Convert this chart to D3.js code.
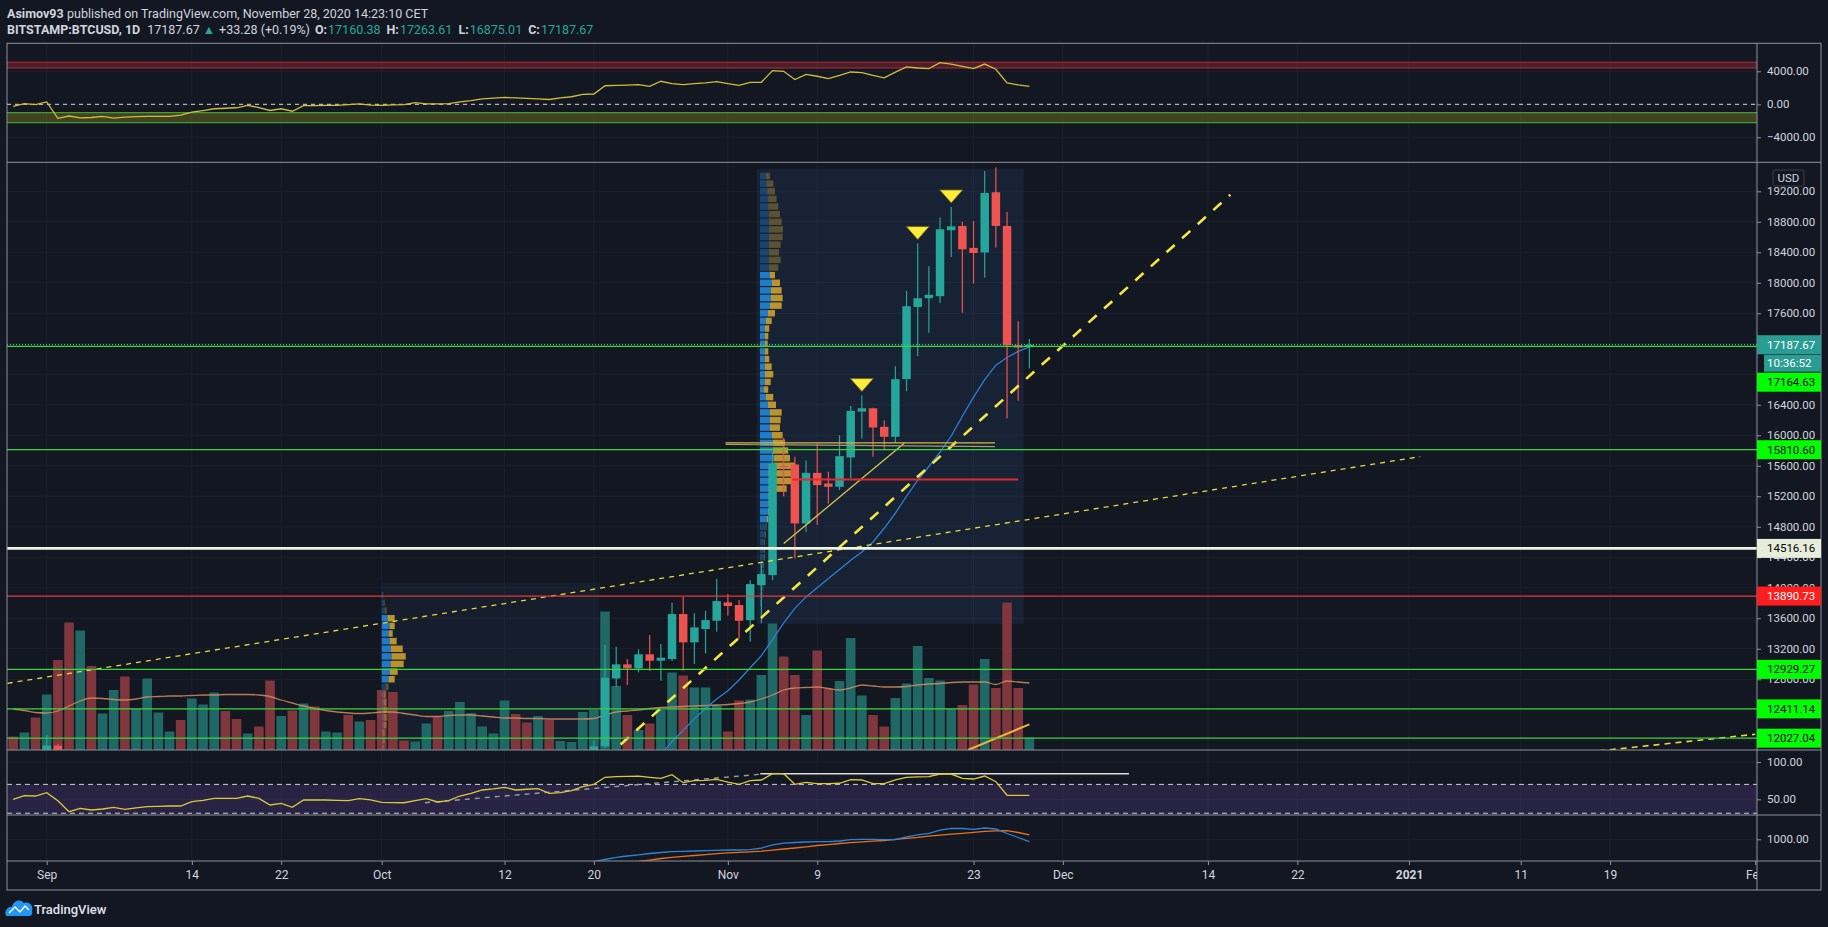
<!DOCTYPE html>
<html>
<head>
<meta charset="utf-8">
<title>BITSTAMP:BTCUSD 1D</title>
<script src="https://cdn.jsdelivr.net/npm/d3@7/dist/d3.min.js"></script>
<style>
  html, body { margin: 0; background: #131722; }
  svg { display: block; }
  text { font-family: Roboto, "Liberation Sans", sans-serif; }
</style>
</head>
<body>
<svg id="chart" width="1828" height="927"></svg>
<script>
// ---- values ----
// daily candles that reach into the visible price range: date, open, high, low, close
const candles = [
  ["2020-09-01", 11655, 12070, 11530, 11930],
  ["2020-09-02", 11930, 11950, 11170, 11395],
  ["2020-10-20", 11750, 12000, 11680, 11920],
  ["2020-10-21", 11920, 13248, 11900, 12820],
  ["2020-10-22", 12810, 13226, 12694, 12995],
  ["2020-10-23", 12995, 13061, 12724, 12945],
  ["2020-10-24", 12943, 13192, 12891, 13127],
  ["2020-10-25", 13127, 13380, 12908, 13043],
  ["2020-10-26", 13043, 13261, 12781, 13083],
  ["2020-10-27", 13065, 13803, 13040, 13655],
  ["2020-10-28", 13655, 13882, 12912, 13284],
  ["2020-10-29", 13284, 13664, 13000, 13480],
  ["2020-10-30", 13458, 13698, 13140, 13576],
  ["2020-10-31", 13567, 14118, 13423, 13825],
  ["2020-11-01", 13808, 13917, 13633, 13760],
  ["2020-11-02", 13773, 13838, 13336, 13567],
  ["2020-11-03", 13576, 14100, 13292, 14048],
  ["2020-11-04", 14035, 14319, 13533, 14179],
  ["2020-11-05", 14166, 15770, 14100, 15630],
  ["2020-11-06", 15600, 15965, 15200, 15580],
  ["2020-11-07", 15617, 15717, 14385, 14844],
  ["2020-11-08", 14844, 15673, 14734, 15507],
  ["2020-11-09", 15507, 15893, 14822, 15346],
  ["2020-11-10", 15368, 15520, 15106, 15324],
  ["2020-11-11", 15324, 16001, 15280, 15726],
  ["2020-11-12", 15709, 16385, 15440, 16321],
  ["2020-11-13", 16310, 16520, 15958, 16354],
  ["2020-11-14", 16354, 16360, 15717, 16102],
  ["2020-11-15", 16111, 16198, 15805, 15980],
  ["2020-11-16", 15980, 16906, 15900, 16736],
  ["2020-11-17", 16736, 17893, 16578, 17693],
  ["2020-11-18", 17683, 18514, 17037, 17797],
  ["2020-11-19", 17797, 18217, 17346, 17843],
  ["2020-11-20", 17824, 18855, 17736, 18702],
  ["2020-11-21", 18689, 18995, 18339, 18741],
  ["2020-11-22", 18745, 18800, 17607, 18439],
  ["2020-11-23", 18457, 18809, 17990, 18391],
  ["2020-11-24", 18397, 19466, 18069, 19178],
  ["2020-11-25", 19187, 19511, 18462, 18745],
  ["2020-11-26", 18745, 18929, 16220, 17181],
  ["2020-11-27", 17181, 17496, 16451, 17150],
  ["2020-11-28", 17160.38, 17263.61, 16875.01, 17187.67]
];

// daily volume (K) from Aug 29, with up/down colour and its moving average
const volumeStart = "2020-08-29";
const volumes = [
  2.7, 3.5, 6.5, 11.1, 18, 25.5, 23.9, 16.8, 7.3, 12,
  14.7, 8.3, 14.3, 7.5, 3.7, 6, 10.3, 9.1, 11.5, 7.8,
  6.2, 3.3, 4.7, 13.9, 6.8, 7.9, 9.3, 8.7, 3.7, 3.5,
  7, 5.7, 6, 12, 11.6, 1.9, 1.7, 5.3, 6.7, 7.8,
  9.6, 7.4, 4.7, 3.3, 9.9, 7.2, 5.5, 6.8, 6, 1.8,
  1.6, 7.6, 8, 27.7, 12.8, 7, 4, 5.3, 8, 15.5,
  14.9, 12.5, 12.5, 9, 3.7, 9.9, 10.1, 15, 25.3, 18.7,
  15, 7, 19.9, 12.3, 13.8, 22.4, 10.9, 7, 4.7, 10.4,
  13.3, 20.8, 14.4, 13.9, 8.3, 9, 13.1, 18.2, 12.4, 29.5,
  12.4, 2.5
];
const volumeSide = ("dududduduu" + "duuuuduuud" + "duddududuu" + "dudddduudu" + "uuuuuddudu" +
  "uuuuududuu" + "duuudduuud" + "dudduuuddu" + "uuuuuddudd" + "du").split("");
const volumeAvg = [
  8.2, 7.9, 7.5, 7.4, 7.8, 8.8, 9.8, 10.4, 10.3, 10.1,
  10, 10.2, 10.6, 10.7, 10.8, 10.8, 10.9, 11, 11, 11.1,
  11.1, 11.1, 11, 10.7, 10, 9.4, 8.8, 8.3, 7.9, 7.6,
  7.4, 7.3, 7.4, 7.6, 7.6, 7.3, 7, 6.7, 6.7, 6.9,
  7, 7, 6.8, 6.6, 6.4, 6.4, 6.3, 6.3, 6.2, 6.2,
  6.2, 6.2, 6.3, 7, 7.6, 7.8, 8, 8.3, 8.5, 8.6,
  8.7, 8.8, 8.9, 9, 9.1, 9.3, 9.6, 10.2, 11, 12,
  12.4, 12.5, 12.6, 12.3, 12, 12.4, 13, 12.8, 12.6, 12.6,
  12.7, 13, 13.2, 13.3, 13.5, 13.6, 13.6, 13.6, 13.1, 13.8,
  13.6, 13.4
];

// blue moving average on price, from Oct 26
const maStart = "2020-10-26";
const maValues = [
  11820, 11980, 12130, 12280, 12420, 12540, 12650, 12790, 12950, 13110,
  13320, 13540, 13730, 13880, 14000, 14120, 14240, 14360, 14470, 14600,
  14780, 14980, 15200, 15410, 15590, 15780, 15990, 16250, 16500, 16730,
  16920, 17020, 17100, 17160
];

// top oscillator, from Aug 29
const oscStart = "2020-08-29";
const oscValues = [
  -250, 80, -40, 290, -1700, -1420, -1650, -1600, -1460, -1670,
  -1560, -1500, -1460, -1460, -1460, -1300, -960, -760, -540, -480,
  -420, -125, -400, -750, -540, -840, -170, -150, -140, -125,
  -50, 40, -100, -125, -80, -40, 210, 40, 60, 80,
  300, 450, 665, 750, 830, 780, 710, 650, 580, 780,
  915, 1200, 1250, 2250, 2290, 2330, 2375, 2165, 2790, 2500,
  2375, 2500, 2600, 2750, 2500, 2290, 2665, 2665, 4085, 4000,
  3000, 3625, 3400, 3125, 3500, 3915, 3835, 3500, 3210, 3900,
  4540, 4400, 4335, 5040, 4875, 4600, 4335, 4875, 4250, 2585,
  2350, 2165
];
const oscBandHigh = [4400, 5100];
const oscBandLow = [-2230, -1020];

// RSI, from Aug 29
const rsiStart = "2020-08-29";
const rsiValues = [
  50, 54.8, 54.4, 58.9, 48, 33.4, 37.9, 35.7, 37, 39.3,
  36.6, 38.5, 40.1, 40.5, 41, 41, 46.8, 48.5, 51.3, 51.3,
  51.3, 54.4, 51.3, 42.4, 44.6, 39.3, 49.1, 49.1, 49.1, 48.5,
  48.2, 50.9, 49.1, 45.9, 45.6, 45.4, 48.2, 50.9, 46.4, 48.2,
  54.4, 58, 62.5, 64, 66.1, 62.5, 63.5, 64.2, 58, 58.9,
  61.6, 66.9, 70.1, 79.5, 80.3, 80.8, 81.2, 79.5, 78.1, 83,
  72.3, 75, 75.5, 76.8, 73, 70.1, 75, 75.9, 84.3, 84.3,
  70.1, 72.8, 71, 71, 71.5, 76.3, 75.9, 71, 71, 76,
  79.5, 80, 80.3, 83.9, 83.9, 78.1, 77.2, 81.2, 73.6, 55.4,
  55.4, 55.4
];
const rsiBand = [30, 70];

// lowest pane: two lines
const lowBlueStart = "2020-10-20";
const lowBlue = [
  440, 495, 550, 582, 612, 645, 670, 692, 700, 708,
  715, 725, 732, 732, 742, 782, 858, 902, 920, 932,
  940, 940, 958, 992, 1000, 1000, 992, 995, 1058, 1108,
  1150, 1232, 1275, 1270, 1250, 1282, 1258, 1145, 1045, 940
];
const lowOrangeStart = "2020-10-24";
const lowOrange = [
  445, 482, 520, 550, 575, 595, 615, 640, 662, 675,
  688, 702, 728, 758, 782, 812, 845, 868, 895, 918,
  938, 952, 970, 998, 1025, 1048, 1078, 1102, 1128, 1150,
  1175, 1200, 1212, 1215, 1170, 1108
];

// fixed range volume profiles: rows of 100 USD, from the top price down (buy, sell)
const novProfileTop = 19400;
const novProfileBuy = [6, 6.7, 7.3, 8.3, 8.3, 9, 9, 9, 9, 9, 9, 9, 9, 10, 12, 11, 11, 10, 8, 6,
  5, 5, 5, 5, 5, 5, 5, 5, 4, 6, 8, 10, 10, 10, 12, 13, 13, 14, 14, 14,
  14, 13, 10, 9, 8, 7, 6, 5, 4, 4, 4, 3, 3, 3, 3, 2, 2];
const novProfileSell = [4, 6.7, 7.7, 8.3, 10, 11, 12.7, 14, 13.7, 11.7, 10, 11.7, 9.3, 5, 8, 10.7, 11.7, 11.7, 7, 5.7,
  4.3, 3.3, 2.7, 3.3, 4.3, 6.7, 8.3, 5.7, 4.3, 7.3, 8, 11.7, 10.7, 10, 10.7, 12, 15.3, 16, 21, 22.7,
  19.3, 13.7, 5, 3, 2, 1.3, 0.7, 1, 1, 1, 1, 1, 1, 0.5, 0.5, 0.5, 0];
const novValueArea = [14900, 18100];
const octProfileTop = 13900;
const octProfileBuy = [1, 2, 3, 6, 8, 7, 8, 9, 10, 9, 8, 7, 4, 2, 2, 2, 2, 2, 1, 1, 1];
const octProfileSell = [0.5, 1, 2, 7, 5, 4, 7, 12, 14, 13, 8, 6, 3, 2, 3, 4, 4, 3, 2, 2, 1];
const octValueArea = [12800, 13600];

// drawn levels and lines
const lastPrice = 17187.67;
const greenLevels = [17164.63, 15810.60, 12929.27, 12411.14, 12027.04];
const whiteLevel = 14516.16;
const redLevel = 13890.73;
const peakMarkers = ["2020-11-13", "2020-11-18", "2020-11-21"];
const thickTrend = [["2020-10-21", 11760], ["2020-12-16", 19155]];
const longTrend = [["2020-08-28T12:00Z", 12747], ["2021-01-02", 15720]];
const lowTrend = [["2021-01-18", 11860], ["2021-02-01", 12078]];
const riseLine = [["2020-11-06", 14580], ["2020-11-16T19:00Z", 15896]];
const flatLines = [[["2020-10-31T19:00Z", 15900], ["2020-11-24T22:00Z", 15900]],
                   [["2020-10-31T19:00Z", 15880], ["2020-11-24T22:00Z", 15850]]];
const redSegment = [["2020-11-06T19:00Z", 15420], ["2020-11-27", 15420]];
const volTrend = [["2020-11-22T12:00Z", 11872], ["2020-11-28", 12209]];
const novRange = [["2020-11-03T14:00Z", 13524], ["2020-11-27T12:00Z", 19495]];
const octRange = [["2020-10-01", 14060], ["2020-10-20T12:00Z", 11800]];
const rsiTrend = [["2020-10-04T21:00Z", 45.4], ["2020-11-03T21:00Z", 83.5]];
const rsiFlat = [["2020-11-03T21:36Z", 84.3], ["2020-12-06T22:00Z", 84.3]];

// axis ticks
const priceTicks = [12000, 12400, 12800, 13200, 13600, 14000, 14400, 14800, 15200, 15600,
  16000, 16400, 16800, 17200, 17600, 18000, 18400, 18800, 19200];
const oscTicks = [-4000, 0, 4000];
const rsiTicks = [50, 100];
const lowTicks = [1000];
const timeTicks = ["2020-09-01", "2020-09-14", "2020-09-22", "2020-10-01", "2020-10-12", "2020-10-20",
  "2020-11-01", "2020-11-09", "2020-11-23", "2020-12-01", "2020-12-14", "2020-12-22",
  "2021-01-01", "2021-01-11", "2021-01-19", "2021-02-01"];
const timeLabels = ["Sep", "14", "22", "Oct", "12", "20", "Nov", "9", "23", "Dec", "14", "22",
  "2021", "11", "19", "Feb"];

// ---- layout ----
const plotL = 7, plotR = 1757, axisR = 1821;
const topT = 43.3, topB = 162.3, mainB = 750, rsiB = 815, lowB = 861, timeB = 890;
const teal = "#26a69a", red = "#ef5350";
const textCol = "#d1d4dc", gridCol = "#1c202c", sepCol = "#8f929b";

const t = s => new Date(s.length > 10 ? s : s + "T00:00:00Z");
const seriesDates = (start, values) => values.map((v, i) => [d3.utcDay.offset(t(start), i), v]);

const DAY = 864e5, sep1 = Date.UTC(2020, 8, 1);
const x = d3.scaleUtc()
  .domain([new Date(sep1 - 3.555 * DAY), new Date(sep1 + 153.16 * DAY)])
  .range([plotL, plotR]);
const yPrice = d3.scaleLinear().domain([11872, 19580]).range([mainB, topB]);
const yOsc = d3.scaleLinear().domain([-7030, 7394]).range([topB, topT]);
const yRsi = d3.scaleLinear().domain([28.96, 116.1]).range([rsiB, mainB]);
const yLow = d3.scaleLinear().domain([457.5, 1607.5]).range([lowB, rsiB]);
const yVol = d3.scaleLinear().domain([0, 40]).range([mainB, mainB - 200]);
const wProf = d3.scaleLinear().domain([0, 10]).range([0, 10]);

const step = x(t("2020-09-02")) - x(t("2020-09-01"));

const svg = d3.select("#chart");
svg.append("rect").attr("width", 1828).attr("height", 927).attr("fill", "#131722");

const defs = svg.append("defs");
function clip(id, y0, y1, x0 = plotL, x1 = plotR) {
  defs.append("clipPath").attr("id", id).append("rect")
    .attr("x", x0).attr("y", y0).attr("width", x1 - x0).attr("height", y1 - y0);
  return svg.append("g").attr("clip-path", `url(#${id})`);
}

// ---- header ----
const head = svg.append("g").attr("font-size", 12.5).attr("fill", textCol);
const h1 = head.append("text").attr("x", 7).attr("y", 18);
h1.append("tspan").attr("font-weight", "bold").text("Asimov93");
h1.append("tspan").attr("dx", 3.5).text("published on TradingView.com, November 28, 2020 14:23:10 CET");
const h2 = head.append("text").attr("x", 7).attr("y", 34);
[[0, "BITSTAMP:BTCUSD, 1D", "bold", textCol], [7, "17187.67", "normal", textCol], [3, "▲", "normal", teal],
 [4, "+33.28 (+0.19%)", "normal", textCol], [5, "O:", "bold", textCol], [1, "17160.38", "normal", teal],
 [6, "H:", "bold", textCol], [1, "17263.61", "normal", teal], [6, "L:", "bold", textCol], [1, "16875.01", "normal", teal],
 [6, "C:", "bold", textCol], [1, "17187.67", "normal", teal]].forEach(([gap, s, w, c]) => {
  h2.append("tspan").attr("dx", gap).attr("font-weight", w).attr("fill", c).text(s);
});

// ---- grid ----
const grid = svg.append("g").attr("stroke", gridCol).attr("stroke-width", 1);
timeTicks.forEach(s => {
  grid.append("line").attr("x1", x(t(s))).attr("x2", x(t(s))).attr("y1", topT).attr("y2", lowB);
});
priceTicks.forEach(p => {
  grid.append("line").attr("x1", plotL).attr("x2", plotR).attr("y1", yPrice(p)).attr("y2", yPrice(p));
});
oscTicks.forEach(v => grid.append("line").attr("x1", plotL).attr("x2", plotR).attr("y1", yOsc(v)).attr("y2", yOsc(v)));
rsiTicks.forEach(v => grid.append("line").attr("x1", plotL).attr("x2", plotR).attr("y1", yRsi(v)).attr("y2", yRsi(v)));
lowTicks.forEach(v => grid.append("line").attr("x1", plotL).attr("x2", plotR).attr("y1", yLow(v)).attr("y2", yLow(v)));

// ---- top oscillator pane ----
const topG = clip("clipTop", topT, topB);
topG.append("rect").attr("x", plotL).attr("width", plotR - plotL)
  .attr("y", yOsc(oscBandHigh[1])).attr("height", yOsc(oscBandHigh[0]) - yOsc(oscBandHigh[1]))
  .attr("fill", "rgba(242,54,69,0.25)");
oscBandHigh.forEach(v => topG.append("line").attr("x1", plotL).attr("x2", plotR)
  .attr("y1", yOsc(v)).attr("y2", yOsc(v)).attr("stroke", "#b52a35").attr("stroke-width", 1.2));
topG.append("rect").attr("x", plotL).attr("width", plotR - plotL)
  .attr("y", yOsc(oscBandLow[1])).attr("height", yOsc(oscBandLow[0]) - yOsc(oscBandLow[1]))
  .attr("fill", "rgba(140,140,30,0.38)");
oscBandLow.forEach(v => topG.append("line").attr("x1", plotL).attr("x2", plotR)
  .attr("y1", yOsc(v)).attr("y2", yOsc(v)).attr("stroke", "#3f9c36").attr("stroke-width", 1.2));
topG.append("line").attr("x1", plotL).attr("x2", plotR).attr("y1", yOsc(0)).attr("y2", yOsc(0))
  .attr("stroke", "#d8d8d8").attr("stroke-dasharray", "4,4");
topG.append("path").datum(seriesDates(oscStart, oscValues))
  .attr("d", d3.line().x(d => x(d[0])).y(d => yOsc(d[1])))
  .attr("fill", "none").attr("stroke", "#cdbf3a").attr("stroke-width", 1.3);

// ---- main pane ----
const mainG = clip("clipMain", topB, mainB);
const box = (g, r, ys, fill) => g.append("rect")
  .attr("x", x(t(r[0][0]))).attr("width", x(t(r[1][0])) - x(t(r[0][0])))
  .attr("y", ys(Math.max(r[0][1], r[1][1]))).attr("height", Math.abs(ys(r[0][1]) - ys(r[1][1])))
  .attr("fill", fill);
box(mainG, novRange, yPrice, "rgba(40,78,120,0.22)");
box(mainG, octRange, yPrice, "rgba(40,78,120,0.14)");

// volume
const vol = seriesDates(volumeStart, volumes);
const vw = step * 0.86;
mainG.append("g").selectAll("rect").data(vol).enter().append("rect")
  .attr("x", d => x(d[0]) - vw / 2).attr("width", vw)
  .attr("y", d => yVol(d[1])).attr("height", d => mainB - yVol(d[1]))
  .attr("fill", (d, i) => volumeSide[i] === "u" ? "#1f6865" : "#7f363c");
mainG.append("path").datum(seriesDates(volumeStart, volumeAvg))
  .attr("d", d3.line().curve(d3.curveMonotoneX).x(d => x(d[0])).y(d => yVol(d[1])))
  .attr("fill", "none").attr("stroke", "#d28d5e").attr("stroke-opacity", 0.85).attr("stroke-width", 1.3);

// moving average
mainG.append("path").datum(seriesDates(maStart, maValues))
  .attr("d", d3.line().x(d => x(d[0])).y(d => yPrice(d[1])))
  .attr("fill", "none").attr("stroke", "#2e7fd6").attr("stroke-width", 1.3);

// volume profiles
function profile(x0, top, buys, sells, va) {
  const g = mainG.append("g");
  buys.forEach((b, i) => {
    const p = top - i * 100;
    const inVa = p >= va[0] && p <= va[1];
    const y0 = yPrice(p + 50) + 0.6, h = yPrice(p - 50) - yPrice(p + 50) - 1.2;
    g.append("rect").attr("x", x0).attr("y", y0).attr("width", wProf(b)).attr("height", h)
      .attr("fill", inVa ? "rgba(33,150,243,0.78)" : "rgba(33,150,243,0.3)");
    g.append("rect").attr("x", x0 + wProf(b)).attr("y", y0).attr("width", wProf(sells[i])).attr("height", h)
      .attr("fill", inVa ? "rgba(251,192,45,0.72)" : "rgba(251,192,45,0.3)");
  });
}
profile(x(t("2020-11-03T21:00Z")), novProfileTop, novProfileBuy, novProfileSell, novValueArea);
profile(x(t("2020-10-01")), octProfileTop, octProfileBuy, octProfileSell, octValueArea);

// candles
const cw = step * 0.76;
const cg = mainG.append("g").selectAll("g").data(candles).enter().append("g")
  .attr("fill", d => d[4] >= d[1] ? teal : red).attr("stroke", d => d[4] >= d[1] ? teal : red);
cg.append("line").attr("x1", d => x(t(d[0]))).attr("x2", d => x(t(d[0])))
  .attr("y1", d => yPrice(d[2])).attr("y2", d => yPrice(d[3])).attr("stroke-width", 1.2);
cg.append("rect").attr("x", d => x(t(d[0])) - cw / 2).attr("width", cw)
  .attr("y", d => yPrice(Math.max(d[1], d[4])))
  .attr("height", d => Math.max(1.2, Math.abs(yPrice(d[1]) - yPrice(d[4])))).attr("stroke", "none");

// drawn lines
const seg = (g, pts, ys) => g.append("line")
  .attr("x1", x(t(pts[0][0]))).attr("y1", ys(pts[0][1])).attr("x2", x(t(pts[1][0]))).attr("y2", ys(pts[1][1]));
seg(mainG, longTrend, yPrice).attr("stroke", "#e8d83c").attr("stroke-width", 1.3).attr("stroke-dasharray", "5,5");
seg(mainG, lowTrend, yPrice).attr("stroke", "#e8d83c").attr("stroke-width", 1.6).attr("stroke-dasharray", "6,5");
seg(mainG, thickTrend, yPrice).attr("stroke", "#f5e642").attr("stroke-width", 2.6).attr("stroke-dasharray", "11,10");
seg(mainG, riseLine, yPrice).attr("stroke", "#d8c44a").attr("stroke-width", 1.3);
seg(mainG, flatLines[0], yPrice).attr("stroke", "#d6b84a").attr("stroke-width", 1.4);
seg(mainG, flatLines[1], yPrice).attr("stroke", "#a89a66").attr("stroke-width", 1.2);
seg(mainG, redSegment, yPrice).attr("stroke", "#e22b2b").attr("stroke-width", 2);
seg(mainG, volTrend, yPrice).attr("stroke", "#f0b43a").attr("stroke-width", 2);

// horizontal levels
const hline = (p, col, w, dash) => mainG.append("line").attr("x1", plotL).attr("x2", plotR)
  .attr("y1", yPrice(p)).attr("y2", yPrice(p)).attr("stroke", col).attr("stroke-width", w)
  .attr("stroke-dasharray", dash || null);
hline(lastPrice, "#3fbf6a", 1.2, "1,2");
greenLevels.forEach(p => hline(p, "#3ad63a", 1.2));
hline(whiteLevel, "#eef3e2", 2.6);
hline(redLevel, "#e53935", 1.4);

// peak markers
peakMarkers.forEach(s => {
  const c = candles.find(d => d[0] === s);
  const cx = x(t(s)), ty = yPrice(c[2]) - 4;
  mainG.append("path").attr("d", `M${cx - 11.5},${ty - 13}L${cx + 11.5},${ty - 13}L${cx},${ty}Z`)
    .attr("fill", "#ffeb3b").attr("stroke", "#6b5f12").attr("stroke-width", 0.8);
});

// ---- RSI pane ----
const rsiG = clip("clipRsi", mainB, rsiB);
rsiG.append("rect").attr("x", plotL).attr("width", plotR - plotL)
  .attr("y", yRsi(rsiBand[1])).attr("height", yRsi(rsiBand[0]) - yRsi(rsiBand[1]))
  .attr("fill", "rgba(126,87,194,0.2)");
rsiBand.forEach(v => rsiG.append("line").attr("x1", plotL).attr("x2", plotR)
  .attr("y1", yRsi(v) - (v === rsiBand[0] ? 1 : 0)).attr("y2", yRsi(v) - (v === rsiBand[0] ? 1 : 0))
  .attr("stroke", "#cfcfd6").attr("stroke-dasharray", "5,4"));
seg(rsiG, rsiTrend, yRsi).attr("stroke", "#9a9ca6").attr("stroke-width", 1.4).attr("stroke-dasharray", "5,5");
seg(rsiG, rsiFlat, yRsi).attr("stroke", "#dcdcdc").attr("stroke-width", 1.4);
rsiG.append("path").datum(seriesDates(rsiStart, rsiValues))
  .attr("d", d3.line().x(d => x(d[0])).y(d => yRsi(d[1])))
  .attr("fill", "none").attr("stroke", "#d8ca3c").attr("stroke-width", 1.3);

// ---- lowest pane ----
const lowG = clip("clipLow", rsiB, lowB);
lowG.append("path").datum(seriesDates(lowOrangeStart, lowOrange))
  .attr("d", d3.line().x(d => x(d[0])).y(d => yLow(d[1])))
  .attr("fill", "none").attr("stroke", "#e8711f").attr("stroke-width", 1.3);
lowG.append("path").datum(seriesDates(lowBlueStart, lowBlue))
  .attr("d", d3.line().x(d => x(d[0])).y(d => yLow(d[1])))
  .attr("fill", "none").attr("stroke", "#2f83d6").attr("stroke-width", 1.3);

// ---- frames ----
const frame = svg.append("g").attr("stroke", sepCol).attr("stroke-width", 1).attr("fill", "none");
frame.append("rect").attr("x", plotL).attr("y", topT).attr("width", axisR - plotL).attr("height", timeB - topT);
[topB, mainB, rsiB, lowB].forEach(y => frame.append("line").attr("x1", plotL).attr("x2", axisR).attr("y1", y).attr("y2", y));
frame.append("line").attr("x1", plotR).attr("x2", plotR).attr("y1", topT).attr("y2", timeB);

// ---- price tags on the axis (placed first so covered tick labels can be dropped) ----
const tags = [];
let lastBottom;
function placeTag(yc, text, bg, fg, x0 = plotR, w = axisR - plotR, h = 19) {
  tags.push({ yc, text, bg, fg, x0, w, h });
  return yc + h / 2;
}
lastBottom = placeTag(yPrice(lastPrice), d3.format(".2f")(lastPrice), "#2a9d93", "#ffffff");
lastBottom = placeTag(lastBottom + 9, "10:36:52", "#2a9d93", "#ffffff", plotR + 7, axisR - plotR - 7, 17);
[...greenLevels.map(p => [p, "#00ff00", "#000000"]), [whiteLevel, "#e6eddb", "#000000"], [redLevel, "#ff1e1e", "#ffffff"]]
  .sort((a, b) => b[0] - a[0])
  .forEach(([p, bg, fg]) => {
    let yc = yPrice(p);
    if (yc - 9.5 < lastBottom + 1) yc = lastBottom + 1 + 9.5;
    lastBottom = placeTag(yc, d3.format(".2f")(p), bg, fg);
  });
const covered = y => tags.some(g => y >= g.yc - g.h / 2 && y <= g.yc + g.h / 2);

// ---- axes ----
function rightAxis(scale, ticks, fmt) {
  const g = svg.append("g").attr("transform", `translate(${plotR},0)`)
    .call(d3.axisRight(scale).tickValues(ticks).tickFormat(fmt).tickSize(4).tickPadding(6));
  g.select(".domain").remove();
  g.selectAll("line").attr("stroke", sepCol);
  g.selectAll("text").attr("fill", textCol).attr("font-size", 11.5)
    .attr("font-family", "Roboto, 'Liberation Sans', sans-serif");
  // labels hidden behind a price tag are not shown
  g.selectAll(".tick").filter(d => [-4, 0, 4].every(o => covered(scale(d) + o))).select("text").remove();
  return g;
}
const f2 = d => d3.format(".2f")(d).replace("-", "\u2212");
rightAxis(yOsc, oscTicks, f2);
rightAxis(yPrice, priceTicks, f2);
rightAxis(yRsi, rsiTicks, f2);
rightAxis(yLow, lowTicks, f2);

defs.append("clipPath").attr("id", "clipTime").append("rect")
  .attr("x", plotL).attr("y", lowB).attr("width", plotR - plotL).attr("height", timeB - lowB);
const tAxis = svg.append("g").attr("clip-path", "url(#clipTime)").append("g")
  .attr("transform", `translate(0,${lowB})`)
  .call(d3.axisBottom(x).tickValues(timeTicks.map(t)).tickFormat((d, i) => timeLabels[i]).tickSize(4).tickPadding(5));
tAxis.select(".domain").remove();
tAxis.selectAll("line").attr("stroke", sepCol);
tAxis.selectAll("text").attr("fill", textCol).attr("font-size", 12)
  .attr("font-family", "Roboto, 'Liberation Sans', sans-serif")
  .attr("font-weight", (d, i) => timeLabels[i] === "2021" ? "bold" : null);

// ---- draw the tags ----
const labels = svg.append("g").attr("font-size", 11.5);
tags.forEach(g => {
  labels.append("rect").attr("x", g.x0).attr("y", g.yc - g.h / 2).attr("width", g.w).attr("height", g.h).attr("fill", g.bg);
  labels.append("text").attr("x", plotR + 10).attr("y", g.yc).attr("dy", "0.35em").attr("fill", g.fg).text(g.text);
});
labels.append("rect").attr("x", 1773).attr("y", 170).attr("width", 31).attr("height", 16).attr("rx", 2)
  .attr("fill", "#131722").attr("stroke", "#3a3e4a");
labels.append("text").attr("x", 1788.5).attr("y", 178).attr("dy", "0.35em").attr("text-anchor", "middle")
  .attr("fill", textCol).text("USD");

// ---- footer logo ----
const logo = svg.append("g");
logo.append("path").attr("d", "M6,916 C4,911 8,906 12,907 C13,901 20,898 24,903 C29,901 34,906 32,911 C33,914 31,916 29,916 Z")
  .attr("fill", "#2196f3");
logo.append("path").attr("d", "M9,913 L15,907 L20,912 L25,906 L29,910")
  .attr("fill", "none").attr("stroke", "#ffffff").attr("stroke-width", 1.4);
logo.append("text").attr("x", 34).attr("y", 914).attr("font-size", 13).attr("font-weight", 500)
  .attr("fill", "#e0e3eb").text("TradingView");
</script>
</body>
</html>
